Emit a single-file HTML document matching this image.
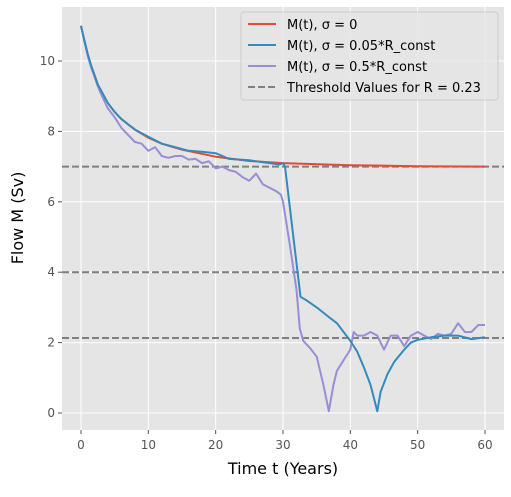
<!DOCTYPE html>
<html><head><meta charset="utf-8"><style>
body{margin:0;background:#fff;font-family:"Liberation Sans","DejaVu Sans",sans-serif;}
svg text{font-family:"DejaVu Sans","Liberation Sans",sans-serif;}
</style></head><body>
<svg id="chart" width="511" height="492" xmlns="http://www.w3.org/2000/svg">
<rect x="62" y="7" width="442" height="423" fill="#e5e5e5"/>
<g id="grid"></g><g id="series"></g><g id="axes"></g>
<text x="283" y="474" font-size="16" text-anchor="middle" fill="#000">Time t (Years)</text>
<text x="23" y="218" font-size="16" text-anchor="middle" fill="#000" transform="rotate(-90 23 218)">Flow M (Sv)</text>
<g>
<rect x="241" y="12" width="257" height="88" rx="3" fill="#e5e5e5" fill-opacity="0.8" stroke="#ccc"/>
<g><line x1="248" y1="24" x2="276" y2="24" stroke="#e24a33" stroke-width="2"/><text x="287" y="29" font-size="13">M(t), σ = 0</text></g>
<g><line x1="248" y1="45" x2="276" y2="45" stroke="#348abd" stroke-width="2"/><text x="287" y="50" font-size="13">M(t), σ = 0.05*R_const</text></g>
<g><line x1="248" y1="66" x2="276" y2="66" stroke="#988ed5" stroke-width="2"/><text x="287" y="71" font-size="13">M(t), σ = 0.5*R_const</text></g>
<g><line x1="248" y1="87" x2="276" y2="87" stroke="#808080" stroke-width="2" stroke-dasharray="7,3"/><text x="287" y="92" font-size="13">Threshold Values for R = 0.23</text></g>
</g>
</svg>
<script>
const xTicks=[0,10,20,30,40,50,60];
const yTicks=[0,2,4,6,8,10];
const thresholds=[7.0,4.0,2.13];
const tRed=[0,0.5,1,1.5,2,2.5,3,4,5,6,8,10,12,15,20,25,30,40,50,60];
const mRed=[11,10.58,10.2,9.87,9.6,9.33,9.15,8.8,8.55,8.35,8.05,7.82,7.65,7.48,7.28,7.16,7.1,7.04,7.01,7.0];
const tBlue=[0,0.5,1,1.5,2,2.5,3,4,5,6,8,10,12,14,16,18,20,21,22,25,28,29.5,30,30.3,32.6,33.5,35,37,38,39,40,41,42,43,44,44.5,45.5,46.5,48,49,50,52,54,56,58,60];
const mBlue=[11,10.58,10.2,9.87,9.6,9.33,9.15,8.8,8.55,8.35,8.05,7.85,7.65,7.55,7.45,7.42,7.38,7.3,7.22,7.18,7.1,7.06,7.1,7.0,3.3,3.2,3.0,2.7,2.55,2.3,2.05,1.75,1.3,0.8,0.05,0.6,1.1,1.45,1.8,2.0,2.08,2.15,2.2,2.2,2.1,2.15];
const tPurple=[0,0.5,1,1.5,2,2.5,3,4,5,6,7,8,9,10,11,12,13,14,15,16,17,18,19,20,21,22,23,24,25,26,27,28,29,29.7,30,31,32,32.5,33,34,35,36,36.8,37.5,38,39,40,40.5,41,42,43,44,45,46,47,48,49,50,51,52,53,54,55,56,57,58,59,60];
const mPurple=[11,10.55,10.15,9.82,9.55,9.28,9.05,8.65,8.4,8.1,7.9,7.7,7.65,7.45,7.55,7.3,7.25,7.3,7.3,7.2,7.22,7.1,7.15,6.95,7.0,6.9,6.85,6.7,6.6,6.8,6.5,6.4,6.3,6.2,6.0,4.8,3.5,2.4,2.05,1.85,1.6,0.8,0.05,0.8,1.2,1.5,1.8,2.3,2.2,2.2,2.3,2.2,1.8,2.2,2.2,1.9,2.2,2.3,2.2,2.1,2.25,2.2,2.25,2.55,2.3,2.3,2.5,2.5];
const X=t=>81+t*(485-81)/60;
const Y=v=>413-v*(413-61)/10;
const NS='http://www.w3.org/2000/svg';
function mk(tag,attrs,parent){const e=document.createElementNS(NS,tag);for(const k in attrs)e.setAttribute(k,attrs[k]);parent.appendChild(e);return e;}
const grid=document.getElementById('grid'),axes=document.getElementById('axes'),series=document.getElementById('series');
xTicks.forEach(t=>{
 const l=mk('line',{x1:X(t),x2:X(t),y1:7,y2:430,stroke:'#fff','stroke-width':1},grid);
 
 
 const tk=mk('line',{x1:X(t),x2:X(t),y1:430,y2:434,stroke:'#555'},axes);
 
 
 const tx=mk('text',{x:X(t),y:449,'font-size':12,'text-anchor':'middle',fill:'#555'},axes);
 tx.textContent=t;
 
 
});
yTicks.forEach(v=>{
 const l=mk('line',{x1:62,x2:504,y1:Y(v),y2:Y(v),stroke:'#fff','stroke-width':1},grid);
 
 
 const tk=mk('line',{x1:58,x2:62,y1:Y(v),y2:Y(v),stroke:'#555'},axes);
 
 
 const tx=mk('text',{x:55,y:Y(v)+4,'font-size':12,'text-anchor':'end',fill:'#555'},axes);
 tx.textContent=v;
 
 
});
thresholds.forEach(v=>{
 const l=mk('line',{x1:62,x2:504,y1:Y(v),y2:Y(v),stroke:'#808080','stroke-width':2,'stroke-dasharray':'7,3'},series);
 
 
});
function line(ts,ms,color,name){
 const d=ts.map((t,i)=>(i?'L':'M')+X(t).toFixed(1)+','+Y(ms[i]).toFixed(1)).join('');
 const p=mk('path',{d:d,fill:'none',stroke:color,'stroke-width':2,'stroke-linejoin':'round'},series);
 
 
}
line(tRed,mRed,'#e24a33','series-sigma-0');
line(tPurple,mPurple,'#988ed5','series-sigma-05');
line(tBlue,mBlue,'#348abd','series-sigma-005');
</script>
</body></html>
